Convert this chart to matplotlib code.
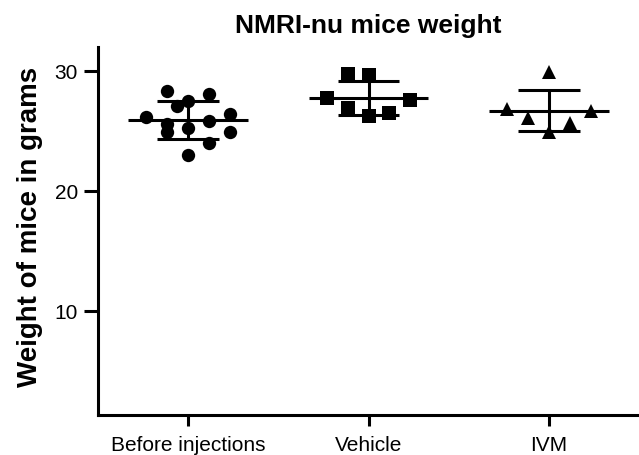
import numpy as np
import matplotlib
matplotlib.use("Agg")
import matplotlib.pyplot as plt

plt.rcParams['font.family'] = ['Liberation Sans', 'DejaVu Sans']

# ---- data ----
categories = ["Before injections", "Vehicle", "IVM"]
before_vals = [28.33, 28.06, 27.50, 27.08, 26.20, 25.56, 24.90, 25.28, 25.83, 26.39, 24.87, 23.95, 22.98]
vehicle_vals = [29.73, 29.64, 27.78, 27.56, 26.87, 26.25, 26.53]
ivm_vals = [29.92, 26.81, 26.06, 24.95, 25.70, 26.62]
yticks = [10, 20, 30]

# ---- layout (horizontal scatter slots, in slot units) ----
before_slots = [-1, 1, 0, -0.55, -2, -1, -1, 0, 1, 2, 2, 1, 0]
vehicle_slots = [-1, 0, -2, 2, -1, 0, 1]
ivm_slots = [0, -2, -1, 0, 1, 2]
slot_w = 0.116

fig = plt.figure(figsize=(6.39, 4.56), dpi=100)
ax = fig.add_axes([98/639, 40/456, 1 - 98/639, 368/456])

groups = [(before_vals, before_slots, 'o', 9.6),
          (vehicle_vals, vehicle_slots, 's', 9.4),
          (ivm_vals, ivm_slots, '^', 10.0)]

lw = 2.2
for i, (vals, slots, mk, ms) in enumerate(groups):
    vals = np.asarray(vals)
    xs = i + np.asarray(slots) * slot_w
    ax.plot(xs, vals, linestyle='none', marker=mk, markersize=ms,
            color='black', markeredgewidth=0, zorder=3)
    m = vals.mean()
    sd = vals.std(ddof=1)
    ax.hlines(m, i - 0.332, i + 0.332, color='black', lw=lw, zorder=4)
    ax.hlines([m - sd, m + sd], i - 0.171, i + 0.171, color='black', lw=lw, zorder=4)
    ax.vlines(i, m - sd, m + sd, color='black', lw=lw, zorder=4)

ax.set_xlim(-0.5, 2.5)
ax.set_ylim(1.3, 32)
ax.set_yticks(yticks)
ax.set_yticklabels([str(t) for t in yticks], fontsize=15)
ax.set_xticks(range(len(categories)))
ax.set_xticklabels(categories, fontsize=15)

for s in ['top', 'right']:
    ax.spines[s].set_visible(False)
for s in ['left', 'bottom']:
    ax.spines[s].set_linewidth(2.2)
    ax.spines[s].set_color('black')
ax.tick_params(axis='y', length=10, width=2.2, pad=4.5, color='black')
ax.tick_params(axis='x', length=8, width=2.2, pad=6.5, color='black')

fig.text((98 + 639) / 2 / 639, 1 - 33 / 456, "NMRI-nu mice weight",
         ha='center', va='baseline', fontsize=19, fontweight='bold')
fig.text(30 / 639, 1 - 227 / 456, "Weight of mice in grams", rotation=90,
         ha='center', va='center', fontsize=20, fontweight='bold')

fig.savefig("out.png", dpi=100)
